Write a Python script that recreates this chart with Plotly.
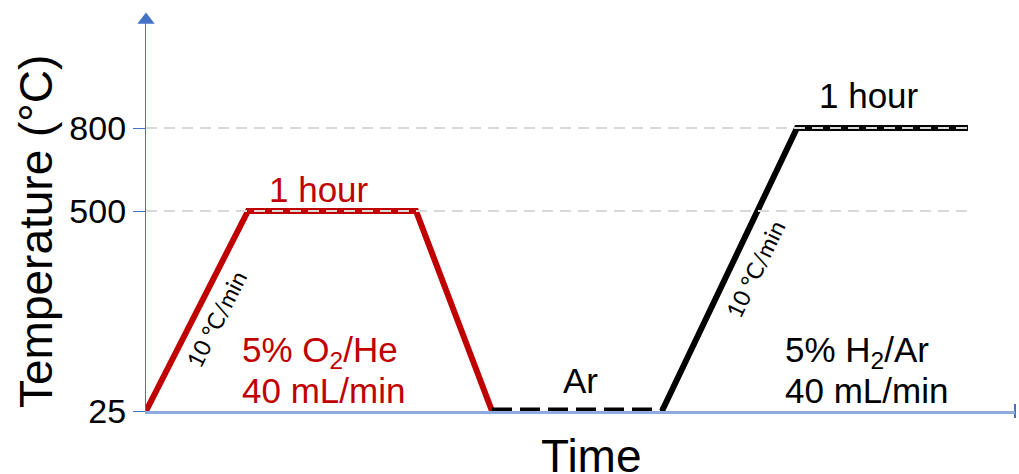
import numpy as np
import plotly.graph_objects as go

# ---- data (schematic time units, temperatures in °C) ----
oxid_time = [0, 102, 270, 346]
oxid_temp = [25, 500, 500, 25]
purge_time = [346, 516]
purge_temp = [25, 25]
red_time = [516, 651, 822]
red_temp = [25, 800, 800]
tick_temps = [25, 500, 800]
tick_labels = ["25", "500", "800"]
# schematic (broken) temperature axis: temperatures above 500 °C are compressed
scale_temps = [25, 500, 800]
scale_pos = [25, 500, 697]

def ty(t):
    return list(np.interp(t, scale_temps, scale_pos))

W, H = 1019, 474
ML, MR, MT, MB = 146, 4, 20, 63
PW, PH = W - ML - MR, H - MT - MB
X_MAX = PW
PX_PER_UNIT = 200 / 475
Y_MIN = 25
Y_MAX = Y_MIN + PH / PX_PER_UNIT

def px2x(px):
    return px - ML

def px2y(py):
    return Y_MIN + (H - MB - py) / PX_PER_UNIT

RED = "#C00000"
AXBLUE = "#4472C4"
XBLUE = "#8FAADC"
GRID = "#D9D9D9"
FONT = "Liberation Sans, Arial, sans-serif"
LBL = 35

fig = go.Figure()

fig.add_trace(go.Scatter(x=oxid_time, y=ty(oxid_temp), mode="lines",
                         line=dict(color=RED, width=6), showlegend=False, hoverinfo="skip"))
fig.add_trace(go.Scatter(x=purge_time, y=ty(purge_temp), mode="lines",
                         line=dict(color="black", width=7, dash="20px,8px"),
                         showlegend=False, hoverinfo="skip", cliponaxis=False))
fig.add_trace(go.Scatter(x=red_time, y=ty(red_temp), mode="lines",
                         line=dict(color="black", width=6), showlegend=False, hoverinfo="skip"))

# dashed guide lines at the hold temperatures, drawn over the plateaus
for t in tick_temps[1:]:
    fig.add_trace(go.Scatter(x=[0, red_time[-1]], y=ty([t, t]), mode="lines",
                             line=dict(color=GRID, width=2, dash="11px,7px"),
                             showlegend=False, hoverinfo="skip"))

# axis arrow head and end tick
fig.add_trace(go.Scatter(x=[0], y=[Y_MAX], mode="markers",
                         marker=dict(symbol="triangle-up", size=15, color=AXBLUE),
                         cliponaxis=False, showlegend=False, hoverinfo="skip"))
fig.add_trace(go.Scatter(x=[X_MAX], y=[Y_MIN], mode="markers",
                         marker=dict(symbol="line-ns", size=10, line=dict(color=AXBLUE, width=2)),
                         cliponaxis=False, showlegend=False, hoverinfo="skip"))

ann = []
# hold labels
ann.append(dict(x=np.mean(oxid_time[1:3]), y=ty([oxid_temp[1]])[0],
                text="1 hour", showarrow=False, xshift=-13, yshift=22,
                font=dict(family=FONT, size=LBL, color=RED)))
ann.append(dict(x=np.mean(red_time[1:3]), y=ty([red_temp[1]])[0],
                text="1 hour", showarrow=False, xshift=-14, yshift=33,
                font=dict(family=FONT, size=LBL, color="black")))
ann.append(dict(x=np.mean(purge_time), y=ty([purge_temp[0]])[0],
                text="Ar", showarrow=False, xshift=3, yshift=31,
                font=dict(family=FONT, size=LBL, color="black")))
# ramp rates
ann.append(dict(x=px2x(216), y=px2y(319), text="10 °C/min", textangle=-63, showarrow=False,
                font=dict(family="Lato, Carlito, sans-serif", size=23, color="black")))
ann.append(dict(x=px2x(755), y=px2y(269), text="10 °C/min", textangle=-64, showarrow=False,
                font=dict(family="Lato, Carlito, sans-serif", size=23, color="black")))
# gas labels
for txt, px, py, col in [("5% O<sub>2</sub>/He", 240, 352, RED), ("40 mL/min", 240, 390, RED),
                         ("5% H<sub>2</sub>/Ar", 783, 352, "black"), ("40 mL/min", 783, 390, "black")]:
    ann.append(dict(x=px2x(px), y=px2y(py), text=txt, showarrow=False, xanchor="left",
                    yanchor="middle", font=dict(family=FONT, size=LBL, color=col)))
# axis titles
ann.append(dict(xref="paper", yref="paper", x=(591 - ML) / PW, y=(H - MB - 456) / PH,
                text="Time", showarrow=False, yanchor="middle",
                font=dict(family=FONT, size=46, color="black")))
ann.append(dict(xref="paper", yref="paper", x=(36 - ML) / PW, y=(H - MB - 232) / PH,
                text="Temperature (°C)", textangle=-90, showarrow=False, xanchor="center",
                font=dict(family=FONT, size=46, color="black")))

fig.update_layout(
    width=W, height=H, autosize=False,
    margin=dict(l=ML, r=MR, t=MT, b=MB),
    plot_bgcolor="white", paper_bgcolor="white",
    annotations=ann,
    xaxis=dict(range=[0, X_MAX], showgrid=False, zeroline=False, showticklabels=False,
               showline=True, linecolor=XBLUE, linewidth=2.5, ticks=""),
    yaxis=dict(range=[Y_MIN, Y_MAX], showgrid=False, zeroline=False,
               showline=True, linecolor=AXBLUE, linewidth=1.3,
               tickmode="array", tickvals=ty(tick_temps), ticktext=tick_labels,
               ticks="outside", ticklen=12, tickcolor=AXBLUE, tickwidth=1.3,
               tickfont=dict(family=FONT, size=34, color="black")),
)

fig.write_html("out.html", config={"displayModeBar": False},
               post_script="document.body.style.margin='0';document.body.style.padding='0';"
                           "document.body.style.overflow='hidden';")
